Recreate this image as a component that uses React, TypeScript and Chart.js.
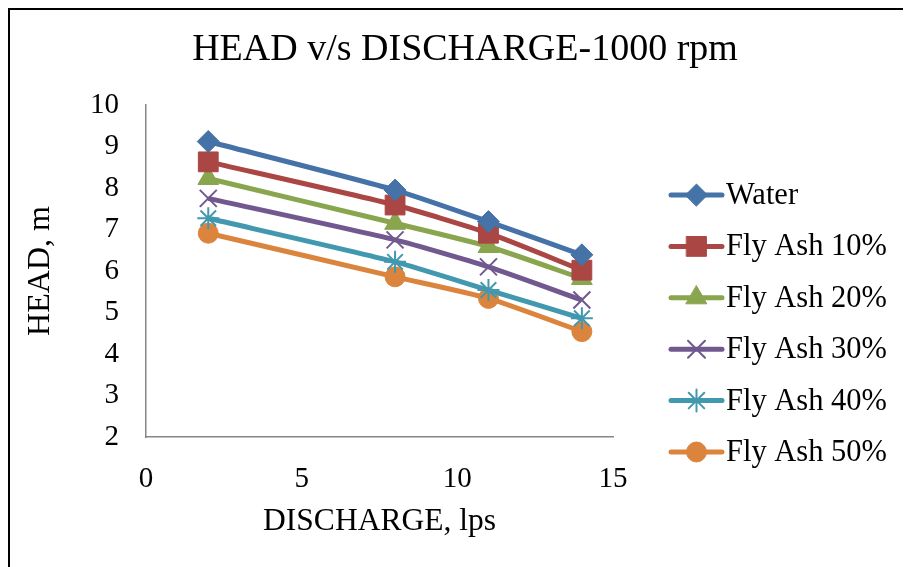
import React, { useEffect, useRef } from "react";
import { Chart, registerables } from "chart.js";
import { drawPoint } from "chart.js/helpers";

Chart.register(...registerables);

const discharge = [2, 8, 11, 14];
const water = [9.12, 7.95, 7.19, 6.39];
const flyAsh10 = [8.63, 7.59, 6.91, 6.02];
const flyAsh20 = [8.23, 7.15, 6.59, 5.82];
const flyAsh30 = [7.75, 6.75, 6.10, 5.30];
const flyAsh40 = [7.27, 6.22, 5.54, 4.86];
const flyAsh50 = [6.91, 5.86, 5.34, 4.54];
const seriesNames = ["Water", "Fly Ash 10%", "Fly Ash 20%", "Fly Ash 30%", "Fly Ash 40%", "Fly Ash 50%"];
const yTicks = [2, 3, 4, 5, 6, 7, 8, 9, 10];
const xTicks = [0, 5, 10, 15];

const colors = ["#4572A7", "#AA4643", "#89A54E", "#71588F", "#4198AF", "#DB843D"];
const styles = ["rectRot", "rect", "triangle", "crossRot", "star", "circle"];
const radii = [11, 14, 12, 12, 11, 10];
const FONT = "'Liberation Serif', 'Times New Roman', serif";

const legendPlugin = {
  id: "customLegend",
  afterDraw(chart: any) {
    const ctx = chart.ctx;
    ctx.save();
    chart.data.datasets.forEach((ds: any, i: number) => {
      const y = 185 + i * 51.4;
      ctx.strokeStyle = ds.borderColor;
      ctx.lineWidth = 5;
      ctx.lineCap = "round";
      ctx.beginPath();
      ctx.moveTo(661, y);
      ctx.lineTo(712, y);
      ctx.stroke();
      ctx.fillStyle = ds.borderColor;
      ctx.strokeStyle = ds.borderColor;
      ctx.lineWidth = ds.pointBorderWidth;
      drawPoint(ctx, { pointStyle: ds.pointStyle, rotation: 0, radius: ds.pointRadius, borderWidth: ds.pointBorderWidth }, 686.5, y);
      ctx.fillStyle = "#000";
      ctx.font = `30.5px ${FONT}`;
      ctx.textBaseline = "middle";
      ctx.textAlign = "left";
      ctx.fillText(ds.label, 716, y + 1);
    });
    ctx.restore();
  },
};

export default function App() {
  const ref = useRef<HTMLCanvasElement | null>(null);
  useEffect(() => {
    if (!ref.current) return;
    const all = [water, flyAsh10, flyAsh20, flyAsh30, flyAsh40, flyAsh50];
    const chart = new Chart(ref.current, {
      type: "line",
      data: {
        datasets: all.map((vals, i) => ({
          label: seriesNames[i],
          data: discharge.map((x, j) => ({ x, y: vals[j] })),
          borderColor: colors[i],
          backgroundColor: colors[i],
          borderWidth: 5,
          tension: 0.2,
          pointStyle: styles[i] as any,
          pointRadius: radii[i],
          pointHoverRadius: radii[i],
          pointBorderWidth: i === 3 || i === 4 ? 2 : 1,
          pointBackgroundColor: colors[i],
          pointBorderColor: colors[i],
        })),
      },
      options: {
        animation: false,
        responsive: false,
        layout: { padding: { left: 15, right: 0, top: 0, bottom: 0 } },
        plugins: {
          legend: { display: false },
          tooltip: { enabled: false },
          title: {
            display: true,
            text: "HEAD v/s DISCHARGE-1000 rpm",
            color: "#000",
            font: { family: FONT, size: 38, weight: "normal" },
            padding: { top: 17.2, bottom: 32.2 },
          },
        },
        scales: {
          x: {
            type: "linear",
            min: 0,
            max: 15,
            afterBuildTicks: (s: any) => { s.ticks = xTicks.map((v) => ({ value: v })); },
            afterFit: (s: any) => { s.height = 130; },
            grid: { display: false, drawTicks: false },
            border: { display: true, color: "#868686", width: 1.5 },
            ticks: { color: "#000", font: { family: FONT, size: 29 }, padding: 25, maxRotation: 0 },
            title: {
              display: true,
              text: "DISCHARGE, lps",
              color: "#000",
              font: { family: FONT, size: 31.5, lineHeight: 1 },
              padding: { top: 0, bottom: 29.25 },
            },
          },
          y: {
            type: "linear",
            min: 2,
            max: 10,
            afterBuildTicks: (s: any) => { s.ticks = yTicks.map((v) => ({ value: v })); },
            afterFit: (s: any) => { s.width = 121; },
            grid: { display: false, drawTicks: false },
            border: { display: true, color: "#868686", width: 1.5 },
            ticks: { color: "#000", font: { family: FONT, size: 29 }, padding: 27 },
            title: {
              display: true,
              text: "HEAD, m",
              color: "#000",
              font: { family: FONT, size: 32, lineHeight: 1 },
              padding: { top: 0, bottom: 0 },
            },
          },
          yR: {
            type: "linear",
            position: "right",
            display: true,
            afterFit: (s: any) => { s.width = 292; },
            grid: { display: false, drawTicks: false },
            border: { display: false },
            ticks: { display: false },
          },
        },
      },
      plugins: [legendPlugin],
    } as any);
    return () => chart.destroy();
  }, []);
  return (
    <div
      style={{
        width: 895,
        height: 557,
        borderTop: "2px solid #000",
        borderLeft: "2px solid #000",
        borderRight: "2px solid #000",
        background: "#fff",
      }}
    >
      <canvas ref={ref} width={895} height={557} style={{ display: "block", width: 895, height: 557 }} />
    </div>
  );
}
